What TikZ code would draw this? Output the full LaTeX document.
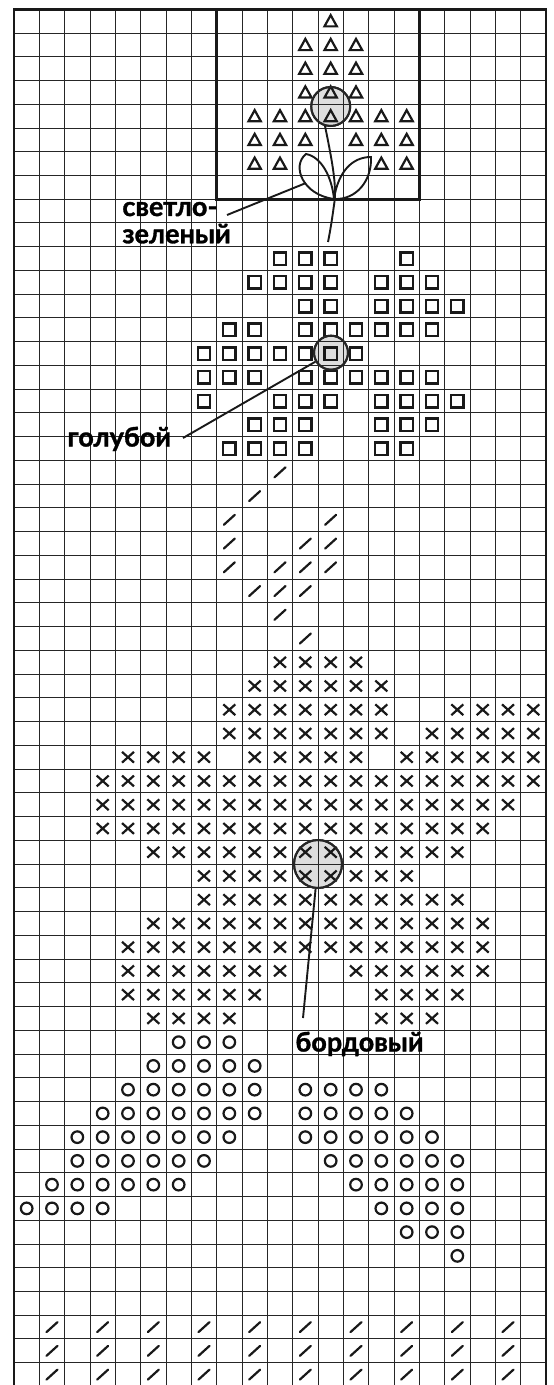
\documentclass[tikz,border=0pt]{standalone}
\usepackage{fontspec}
\setmainfont{Lato}
\newfontfamily\lblfont[BoldFeatures={FakeBold=1.3}]{Lato}
\begin{document}
\begin{tikzpicture}[x=0.5pt,y=-0.5pt,
  gridline/.style={line width=0.5pt,black!85},
  frame/.style={line width=1.3pt,black!90},
  sym/.style={line width=1.1pt,black!90},
  hl/.style={circle,draw=black!85,line width=1pt,fill=black!13,inner sep=0pt},
  hlout/.style={draw=black!85,line width=1pt},
  lbl/.style={font=\lblfont\bfseries\fontsize{13.5}{15}\selectfont,inner sep=0pt,anchor=base west},
  leader/.style={line width=0.95pt,black!90},
  symtri/.pic={\draw[sym,line join=miter] (-6.2,5.2) -- (6.2,5.2) -- (0,-6) -- cycle;},
  symsq/.pic={\draw[sym,line width=1.25pt] (-6.2,-6.2) rectangle (6.2,6.2);},
  symx/.pic={\draw[sym] (-6,-5.4) -- (6,5.4) (-6,5.4) -- (6,-5.4);},
  symo/.pic={\draw[sym] (0,0) circle[radius=2.9pt];},
  symsl/.pic={\draw[sym,line cap=round] (-5.5,5) -- (5.5,-5);}
]
\useasboundingbox (0,0) rectangle (553,1385);

% highlight circles (fill under grid)
\node[hl,minimum size=19.5pt] (hc1) at (330.7,106.5) {};
\node[hl,minimum size=17pt] (hc2) at (331,352.7) {};
\node[hl,minimum size=24pt] (hc3) at (318,864) {};

% grid
\foreach \k in {0,...,21} \draw[gridline] ({14+25.3333*\k},9.3) -- ({14+25.3333*\k},1390);
\foreach \k in {0,...,57} \draw[gridline] (14,{9.3+23.744*\k}) -- (546,{9.3+23.744*\k});

% frame and inset box
\draw[frame] (14,1390) -- (14,9.3) -- (546,9.3) -- (546,1390);
\draw[frame] (216.67,9.3) rectangle (419.33,199.25);

% triangles
\foreach \r/\cs in {0/{12},1/{11,12,13},2/{11,12,13},3/{11,12,13},4/{9,...,15},5/{9,10,11,13,14,15},6/{9,10,14,15}}
  {\foreach \c in \cs {\pic at ({14+25.3333*(\c+0.5)},{9.3+23.744*(\r+0.5)}) {symtri};}}

% squares
\foreach \r/\cs in {10/{10,11,12,15},11/{9,10,11,12,14,15,16},12/{11,12,14,15,16,17},13/{8,9,11,12,13,14,15,16},14/{7,...,13},15/{7,8,9,11,12,13,14,15,16},16/{7,10,11,12,14,15,16,17},17/{9,10,11,14,15,16},18/{8,9,10,11,14,15}}
  {\foreach \c in \cs {\pic at ({14+25.3333*(\c+0.5)},{9.3+23.744*(\r+0.5)}) {symsq};}}

% slashes
\foreach \r/\cs in {19/{10},20/{9},21/{8,12},22/{8,11,12},23/{8,10,11,12},24/{9,10,11},25/{10},26/{11},55/{1,3,5,7,9,11,13,15,17,19},56/{1,3,5,7,9,11,13,15,17,19},57/{1,3,5,7,9,11,13,15,17,19}}
  {\foreach \c in \cs {\pic at ({14+25.3333*(\c+0.5)},{9.3+23.744*(\r+0.5)}) {symsl};}}

% crosses
\foreach \r/\cs in {27/{10,...,13},28/{9,...,14},29/{8,...,14,17,18,19,20},30/{8,...,14,16,17,18,19,20},31/{4,5,6,7,9,10,11,12,13,15,16,17,18,19,20},32/{3,...,20},33/{3,...,19},34/{3,...,18},35/{5,...,17},36/{7,...,15},37/{7,...,17},38/{5,...,18},39/{4,...,18},40/{4,5,6,7,8,9,10,13,14,15,16,17,18},41/{4,5,6,7,8,9,14,15,16,17},42/{5,6,7,8,14,15,16}}
  {\foreach \c in \cs {\pic at ({14+25.3333*(\c+0.5)},{9.3+23.744*(\r+0.5)}) {symx};}}

% circles
\foreach \r/\cs in {43/{6,7,8},44/{5,...,9},45/{4,5,6,7,8,9,11,12,13,14},46/{3,4,5,6,7,8,9,11,12,13,14,15},47/{2,3,4,5,6,7,8,11,12,13,14,15,16},48/{2,3,4,5,6,7,12,13,14,15,16,17},49/{1,2,3,4,5,6,13,14,15,16,17},50/{0,1,2,3,14,15,16,17},51/{15,16,17},52/{17}}
  {\foreach \c in \cs {\pic at ({14+25.3333*(\c+0.5)},{9.3+23.744*(\r+0.5)}) {symo};}}

% highlight outlines on top
\draw[hlout] (hc1.center) circle[radius=9.75pt];
\draw[hlout] (hc2.center) circle[radius=8.5pt];
\draw[hlout] (hc3.center) circle[radius=12pt];

% stem and leaves
\coordinate (stemtop) at (325,126);
\coordinate (stembot) at (328,242);
\coordinate (junc) at (334,199);
\draw[leader] (stemtop) .. controls (333,165) and (337,188) .. (334,205) .. controls (332,220) and (330,232) .. (stembot);
\draw[leader] (junc) .. controls (303,195) and (291,166) .. (306,154) .. controls (322,157) and (332,178) .. (junc);
\draw[leader] (junc) .. controls (338,172) and (352,157) .. (371,157) .. controls (372,180) and (357,200) .. (junc);

% labels
\node[lbl] (lblA) at (122,216) {светло-};
\node[lbl] (lblB) at (122,243.3) {зеленый};
\node[lbl] (lblC) at (67,446.5) {голубой};
\node[lbl] (lblD) at (295,1051.5) {бордовый};

% leaders
\coordinate (s1) at (227,215);
\coordinate (leafL) at (306,183);
\draw[leader] (s1) -- (leafL);
\coordinate (g1) at (183,438);
\draw[leader] (g1) -- (hc2);
\coordinate (b1) at (303,1018);
\draw[leader] (b1) -- (hc3);
\end{tikzpicture}
\end{document}
